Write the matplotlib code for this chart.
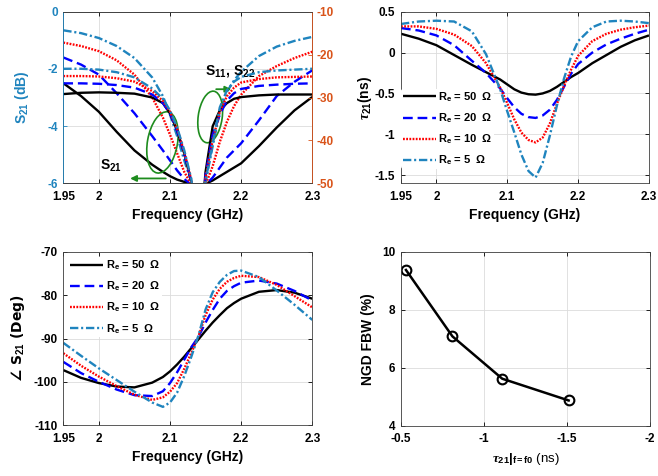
import matplotlib
matplotlib.use('Agg')
import matplotlib.pyplot as plt
from matplotlib.patches import Ellipse
import matplotlib.transforms as mtransforms

plt.rcParams['font.family'] = ['Liberation Sans', 'DejaVu Sans']
plt.rcParams['font.weight'] = 'bold'
plt.rcParams['axes.labelweight'] = 'bold'
plt.rcParams['mathtext.fontset'] = 'custom'
plt.rcParams['mathtext.rm'] = 'Liberation Sans:bold'
plt.rcParams['mathtext.bf'] = 'Liberation Sans:bold'
plt.rcParams['mathtext.sf'] = 'Liberation Sans:bold'
plt.rcParams['mathtext.it'] = 'Liberation Serif:italic'
plt.rcParams['lines.scale_dashes'] = False
plt.rcParams['axes.unicode_minus'] = False

# ---------------- data ----------------
re_values = ['50', '20', '10', '5']

# panel (a): S21 (left axis, dB) and S11/S22 (right axis, dB)
freq_a = [1.95, 1.975, 2.0, 2.025, 2.05, 2.075, 2.09, 2.1, 2.11, 2.12, 2.13,
          2.14, 2.15, 2.16, 2.17, 2.18, 2.19, 2.2, 2.225, 2.25, 2.275, 2.3]
s21_re50 = [-2.5, -2.95, -3.5, -4.2, -4.85, -5.35, -5.6, -5.75, -5.87, -5.95, -6.02,
            -6.1, -6.02, -5.9, -5.75, -5.6, -5.45, -5.3, -4.7, -4.05, -3.45, -2.98]
s21_re20 = [-1.6, -1.85, -2.2, -2.85, -3.55, -4.35, -4.85, -5.2, -5.55, -5.85, -6.05,
            -6.15, -6.05, -5.8, -5.45, -5.1, -4.85, -4.6, -3.8, -2.95, -2.45, -2.05]
s21_re10 = [-1.08, -1.2, -1.38, -1.7, -2.2, -3.0, -3.7, -4.3, -4.95, -5.6, -6.05,
            -6.25, -6.05, -5.4, -4.55, -3.85, -3.3, -2.9, -2.25, -1.9, -1.62, -1.4]
s21_re5 = [-0.65, -0.75, -0.92, -1.2, -1.62, -2.3, -2.95, -3.6, -4.35, -5.2, -5.95,
           -6.35, -5.95, -4.7, -3.5, -2.8, -2.4, -2.1, -1.55, -1.22, -1.02, -0.88]
s11_re50 = [-29.2, -28.9, -28.8, -28.9, -29.1, -30.0, -31.3, -33.7, -37.7, -43.0, -49.7,
            -66.7, -47.3, -36.7, -33.0, -31.3, -30.3, -29.9, -29.5, -29.3, -29.3, -29.3]
s11_re20 = [-26.7, -26.7, -26.8, -27.1, -27.7, -29.3, -31.3, -33.7, -37.7, -43.0, -49.7,
            -66.7, -48.0, -38.7, -34.0, -30.7, -29.0, -28.0, -27.3, -27.0, -26.8, -26.7]
s11_re10 = [-25.0, -25.0, -25.1, -25.5, -26.3, -28.5, -30.8, -33.3, -37.3, -42.7, -49.3,
            -66.7, -48.7, -40.0, -33.3, -29.7, -27.7, -26.5, -25.7, -25.3, -25.2, -25.1]
s11_re5 = [-23.3, -23.3, -23.5, -24.1, -25.3, -27.9, -30.3, -33.0, -37.0, -42.3, -49.0,
           -66.7, -49.3, -40.7, -32.3, -28.3, -26.3, -25.2, -24.1, -23.7, -23.5, -23.3]

# panel (b): group delay tau21 (ns)
freq_b = [1.95, 1.975, 2.0, 2.025, 2.05, 2.07, 2.09, 2.1, 2.11, 2.12, 2.13, 2.14,
          2.15, 2.16, 2.17, 2.18, 2.19, 2.2, 2.22, 2.24, 2.26, 2.28, 2.3]
tau_re50 = [0.23, 0.17, 0.09, -0.03, -0.15, -0.24, -0.33, -0.39, -0.45, -0.49, -0.51, -0.515,
            -0.5, -0.47, -0.42, -0.36, -0.3, -0.25, -0.13, -0.03, 0.07, 0.15, 0.21]
tau_re20 = [0.3, 0.27, 0.21, 0.09, -0.1, -0.25, -0.44, -0.56, -0.67, -0.75, -0.79, -0.8,
            -0.77, -0.7, -0.58, -0.42, -0.26, -0.14, 0.0, 0.1, 0.17, 0.23, 0.28]
tau_re10 = [0.32, 0.32, 0.29, 0.22, 0.08, -0.13, -0.43, -0.62, -0.82, -0.98, -1.07, -1.1,
            -1.04, -0.87, -0.63, -0.41, -0.21, -0.04, 0.14, 0.23, 0.28, 0.31, 0.33]
tau_re5 = [0.35, 0.38, 0.39, 0.38, 0.26, -0.02, -0.45, -0.72, -0.98, -1.25, -1.45, -1.53,
           -1.35, -1.02, -0.65, -0.32, -0.05, 0.14, 0.31, 0.38, 0.39, 0.38, 0.36]

# panel (c): phase of S21 (deg)
freq_c = [1.95, 1.975, 2.0, 2.025, 2.05, 2.075, 2.09, 2.1, 2.11, 2.12, 2.13,
          2.14, 2.15, 2.16, 2.17, 2.18, 2.19, 2.2, 2.225, 2.25, 2.275, 2.3]
ph_re50 = [-97.3, -99.1, -100.3, -101.1, -101.3, -100.2, -98.9, -97.6, -96.0, -94.2, -92.2,
           -90.2, -88.2, -86.3, -84.6, -83.0, -81.8, -80.8, -79.2, -78.8, -79.4, -80.8]
ph_re20 = [-95.4, -98.0, -100.0, -101.8, -103.1, -103.3, -102.2, -100.3, -97.8, -94.9, -92.0,
           -89.6, -86.3, -83.4, -80.8, -79.0, -77.9, -77.1, -76.6, -77.3, -79.0, -81.2]
ph_re10 = [-93.4, -96.3, -98.8, -101.0, -103.0, -104.2, -103.6, -102.3, -100.3, -97.0, -93.3,
           -89.5, -84.6, -81.0, -78.5, -76.9, -76.0, -75.5, -75.8, -77.6, -80.2, -82.8]
ph_re5 = [-91.0, -94.0, -96.9, -99.6, -102.3, -104.8, -105.8, -104.8, -102.5, -98.7, -94.2,
          -89.3, -83.3, -79.3, -76.9, -75.3, -74.4, -74.3, -75.8, -78.9, -82.2, -85.7]

# panel (d): NGD FBW vs group delay at f0
tau_f0 = [-0.53, -0.81, -1.11, -1.51]
ngd_fbw = [9.37, 7.08, 5.62, 4.87]

# ticks
freq_ticks = [1.95, 2.0, 2.1, 2.2, 2.3]
freq_ticklabels = ['1.95', '2', '2.1', '2.2', '2.3']
s21_ticks = [-6, -4, -2, 0]
s11_ticks = [-50, -40, -30, -20, -10]
tau_ticks = [-1.5, -1, -0.5, 0, 0.5]
tau_ticklabels = ['-1.5', '-1', '-0.5', '0', '0.5']
ph_ticks = [-110, -100, -90, -80, -70]
fbw_ticks = [4, 6, 8, 10]
tf0_ticks = [-0.5, -1, -1.5, -2]
tf0_ticklabels = ['-0.5', '-1', '-1.5', '-2']

# ---------------- styles ----------------
colors = ['black', '#0000FF', '#FF0000', '#1F84BE']
dash_styles = [(0, ()), (0, (7, 3.5)), (0, (1.3, 1.0)), (0, (6, 2, 1.5, 2))]
teal = '#1F84BE'
orange = '#D95319'
green = '#1E8C1E'
grid_c = '#dcdcdc'
spine_c = '#404040'
LW = 1.7
TICK_FS = 8.5
LAB_FS = 10


def style_axes(ax, mirror=True):
    ax.grid(True, color=grid_c, lw=0.6)
    ax.set_axisbelow(True)
    ax.tick_params(direction='in', length=3, width=0.6, labelsize=TICK_FS,
                   top=mirror, right=mirror)
    ax.tick_params(axis='x', pad=5.5)
    ax.tick_params(axis='y', pad=4)
    for s in ax.spines.values():
        s.set_linewidth(0.6)
        s.set_color(spine_c)


fig = plt.figure(figsize=(6.58, 4.76), dpi=100)

# ---------------- panel (a) ----------------
ax1 = fig.add_axes([0.0962, 0.6149, 0.3784, 0.3605])
ax1r = ax1.twinx()
style_axes(ax1, mirror=False)
ax1.tick_params(axis='x', top=True)
s21_all = [s21_re50, s21_re20, s21_re10, s21_re5]
s11_all = [s11_re50, s11_re20, s11_re10, s11_re5]
for i in range(4):
    ax1.plot(freq_a, s21_all[i], color=colors[i], linestyle=dash_styles[i], lw=LW)
    ax1r.plot(freq_a, s11_all[i], color=colors[i], linestyle=dash_styles[i], lw=LW)
ax1.set_xlim(1.95, 2.3)
ax1.set_ylim(-6, 0)
ax1r.set_ylim(-50, -10)
ax1.set_xticks(freq_ticks)
ax1.set_xticklabels(freq_ticklabels)
ax1.set_yticks(s21_ticks)
ax1r.set_yticks(s11_ticks)
ax1.tick_params(axis='y', colors=teal)
ax1r.tick_params(axis='y', colors=orange, direction='in', length=3, width=0.6,
                 labelsize=TICK_FS, pad=3)
for s in ax1r.spines.values():
    s.set_linewidth(0.6)
    s.set_color(spine_c)
ax1r.spines['right'].set_color(orange)
ax1r.spines['left'].set_color(teal)
ax1.set_xlabel('Frequency (GHz)', fontsize=LAB_FS, labelpad=3.5)
ax1.set_ylabel('S$_{\\mathrm{21}}$ (dB)', fontsize=LAB_FS, color=teal, labelpad=12)

# annotations
tr1 = fig.dpi_scale_trans + mtransforms.ScaledTranslation(2.0894, -4.57, ax1.transData)
ax1r.add_patch(Ellipse((0, 0), 0.30, 0.62, angle=-10, transform=tr1, fill=False,
                       ec=green, lw=1.2, clip_on=False))
tr2 = fig.dpi_scale_trans + mtransforms.ScaledTranslation(2.1565, -3.68, ax1.transData)
ax1r.add_patch(Ellipse((0, 0), 0.24, 0.52, angle=-8, transform=tr2, fill=False,
                       ec=green, lw=1.2, clip_on=False))
ax1.annotate('', xy=(2.040, -5.83), xytext=(2.098, -5.83),
             arrowprops=dict(arrowstyle='-|>', color=green, lw=1.3, mutation_scale=9))
ax1.annotate('', xy=(2.190, -2.71), xytext=(2.161, -2.71),
             arrowprops=dict(arrowstyle='-|>', color=green, lw=1.3, mutation_scale=9))
ax1.text(2.0015, -5.53, 'S$_{\\mathrm{21}}$', fontsize=LAB_FS, va='baseline', ha='left')
ax1.text(2.149, -2.18, 'S$_{\\mathrm{11}}$, S$_{\\mathrm{22}}$', fontsize=LAB_FS,
         va='baseline', ha='left')

labels = ['R$_{\\mathrm{e}}$ = %s  \u03a9' % r for r in re_values]

# ---------------- panel (b) ----------------
ax2 = fig.add_axes([0.6094, 0.6149, 0.3769, 0.3605])
style_axes(ax2)
tau_all = [tau_re50, tau_re20, tau_re10, tau_re5]
for i in range(4):
    ax2.plot(freq_b, tau_all[i], color=colors[i], linestyle=dash_styles[i], lw=LW,
             label=labels[i])
ax2.set_xlim(1.95, 2.3)
ax2.set_ylim(-1.6, 0.5)
ax2.set_xticks(freq_ticks)
ax2.set_xticklabels(freq_ticklabels)
ax2.set_yticks(tau_ticks)
ax2.set_yticklabels(tau_ticklabels)
ax2.set_xlabel('Frequency (GHz)', fontsize=LAB_FS, labelpad=3.5)
ax2.set_ylabel('$\\tau_{21}$(ns)', fontsize=LAB_FS, labelpad=1)
leg2 = ax2.legend(loc='lower left', bbox_to_anchor=(0.0, 0.085), frameon=True,
                  edgecolor='none', facecolor='white', framealpha=1, fontsize=8,
                  handlelength=3.0, labelspacing=0.68, borderpad=0.15,
                  handletextpad=0.2, borderaxespad=0)
leg2.get_frame().set_linewidth(0)

# ---------------- panel (c) ----------------
ax3 = fig.add_axes([0.0962, 0.1071, 0.3784, 0.3635])
style_axes(ax3)
ph_all = [ph_re50, ph_re20, ph_re10, ph_re5]
for i in range(4):
    ax3.plot(freq_c, ph_all[i], color=colors[i], linestyle=dash_styles[i], lw=LW,
             label=labels[i])
ax3.set_xlim(1.95, 2.3)
ax3.set_ylim(-110, -70)
ax3.set_xticks(freq_ticks)
ax3.set_xticklabels(freq_ticklabels)
ax3.set_yticks(ph_ticks)
ax3.set_xlabel('Frequency (GHz)', fontsize=LAB_FS, labelpad=3.5)
ax3.set_ylabel('\u2220 S$_{\\mathrm{21}}$ (Deg)', fontsize=LAB_FS, labelpad=5,
               family=['DejaVu Sans'])
leg3 = ax3.legend(loc='upper left', bbox_to_anchor=(0.02, 0.97), frameon=True,
                  edgecolor='none', facecolor='white', framealpha=1, fontsize=8,
                  handlelength=3.0, labelspacing=0.68, borderpad=0.15,
                  handletextpad=0.2, borderaxespad=0)
leg3.get_frame().set_linewidth(0)

# ---------------- panel (d) ----------------
ax4 = fig.add_axes([0.6094, 0.1057, 0.3784, 0.3655])
style_axes(ax4)
ax4.plot(tau_f0, ngd_fbw, color='black', lw=1.8, marker='o', markersize=7,
         markerfacecolor='none', markeredgewidth=1.5)
ax4.set_xlim(-0.5, -2)
ax4.set_ylim(4, 10)
ax4.set_xticks(tf0_ticks)
ax4.set_xticklabels(tf0_ticklabels)
ax4.set_yticks(fbw_ticks)
ax4.set_xlabel('$\\tau_{21}|_{\\mathrm{f=f0}}$ (ns)', fontsize=9.5, fontweight='normal',
               labelpad=4)
ax4.set_ylabel('NGD FBW (%)', fontsize=LAB_FS, labelpad=5)

fig.savefig('out.png', dpi=100)
